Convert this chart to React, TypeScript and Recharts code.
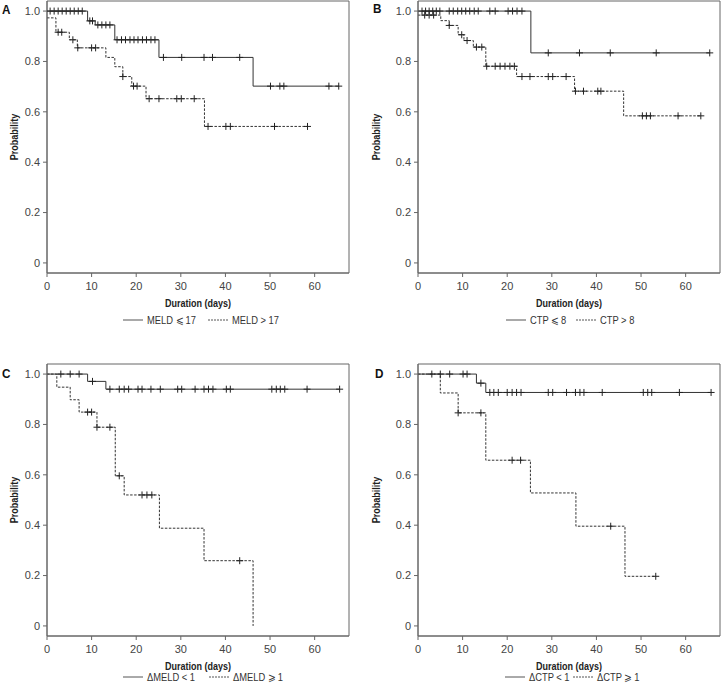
import React from 'react';
import { LineChart, Line, XAxis, YAxis, ReferenceArea, Legend } from 'recharts';

type Step = [number, number];

const FONT = "'Liberation Sans', Arial, sans-serif";
const SX = 0.82; // horizontal condensing of label text

const X_TICKS = [0, 10, 20, 30, 40, 50, 60];
const Y_TICKS = [0, 0.2, 0.4, 0.6, 0.8, 1.0];
const X_MAX = 67.7;
const Y_DOMAIN: [number, number] = [-0.04, 1.04];
const X_LABEL = 'Duration (days)';
const Y_LABEL = 'Probability';

// Panel A: MELD
const A_LEGEND = ['MELD ⩽ 17', 'MELD > 17'];
const A_SOLID_STEPS: Step[] = [[0, 1], [9.1, 0.961], [10.8, 0.945], [15.2, 0.886], [25.1, 0.816], [46.2, 0.702]];
const A_SOLID_CENSOR = [0.7, 1.6, 2.5, 3.4, 4.3, 5.2, 6.1, 7.0, 7.9, 9.6, 10.2, 11.4, 12.3, 13.2, 14.1,
  15.7, 16.7, 17.6, 18.6, 19.5, 20.4, 21.4, 22.3, 23.3, 24.2, 26.1, 30.2, 35.2, 37.1, 43.2, 50.1, 52.2, 53.1, 63.2, 65.4];
const A_DASH_STEPS: Step[] = [[0, 0.973], [2.0, 0.916], [5.0, 0.886], [6.8, 0.854], [13.2, 0.816], [15.2, 0.779],
  [17.0, 0.740], [19.0, 0.702], [22.2, 0.652], [35.3, 0.542]];
const A_DASH_CENSOR = [2.5, 3.3, 5.8, 6.9, 10.0, 10.9, 17.0, 19.4, 20.2, 22.9, 25.1, 29.1, 30.1, 33.0,
  36.1, 40.1, 41.1, 51.0, 58.4];

// Panel B: CTP
const B_LEGEND = ['CTP ⩽ 8', 'CTP > 8'];
const B_SOLID_STEPS: Step[] = [[0, 1], [25.3, 0.834]];
const B_SOLID_CENSOR = [0.9, 1.7, 2.5, 3.3, 4.1, 4.9, 7.0, 7.9, 8.9, 9.8, 10.7, 11.6, 12.6, 13.5, 16.1, 17.3,
  20.2, 21.2, 22.2, 23.3, 29.2, 36.2, 43.1, 53.4, 65.4];
const B_DASH_STEPS: Step[] = [[0, 0.984], [5.1, 0.962], [7.0, 0.943], [9.0, 0.906], [10.3, 0.883], [12.4, 0.857],
  [15.2, 0.781], [22.1, 0.740], [35.1, 0.682], [46.1, 0.584]];
const B_DASH_CENSOR = [1.5, 2.5, 3.5, 7.0, 9.8, 11.0, 13.1, 14.3, 15.4, 17.3, 18.4, 19.5, 20.6, 21.6,
  23.3, 25.1, 29.2, 30.2, 33.2, 35.3, 37.1, 40.3, 41.0, 50.3, 51.2, 52.1, 58.3, 63.4];

// Panel C: delta MELD
const C_LEGEND = ['ΔMELD < 1', 'ΔMELD ⩾ 1'];
const C_SOLID_STEPS: Step[] = [[0, 1], [9.1, 0.971], [13.2, 0.940]];
const C_SOLID_CENSOR = [3.1, 5.2, 7.2, 10.2, 14.1, 16.2, 17.3, 18.3, 20.4, 21.3, 23.3, 25.4, 29.3, 30.2, 33.2,
  35.2, 36.2, 37.2, 40.2, 41.1, 50.4, 51.4, 52.3, 53.3, 58.3, 65.6];
const C_DASH_STEPS: Step[] = [[0, 1], [2.2, 0.948], [5.2, 0.898], [7.2, 0.849], [11.2, 0.789], [15.3, 0.596],
  [17.3, 0.520], [25.2, 0.388], [35.2, 0.259], [46.2, 0]];
const C_DASH_CENSOR = [9.1, 10.0, 11.2, 14.1, 16.2, 21.3, 22.4, 23.5, 43.2];

// Panel D: delta CTP
const D_LEGEND = ['ΔCTP < 1', 'ΔCTP ⩾ 1'];
const D_SOLID_STEPS: Step[] = [[0, 1], [13.1, 0.964], [15.2, 0.927]];
const D_SOLID_CENSOR = [3.1, 5.0, 7.1, 10.1, 11.0, 14.1, 16.1, 17.0, 18.0, 20.0, 21.1, 22.1, 23.1, 29.2, 30.2,
  33.3, 35.3, 36.3, 37.2, 41.3, 50.5, 51.5, 52.4, 58.6, 65.7];
const D_DASH_STEPS: Step[] = [[0, 1], [5.0, 0.925], [9.0, 0.846], [15.2, 0.658], [25.2, 0.528], [35.4, 0.396], [46.4, 0.197]];
const D_DASH_CENSOR = [9.0, 14.1, 21.1, 23.0, 43.2, 53.3];

type Pt = { t: number; s: number; c: boolean };

function buildCurve(steps: Step[], censors: number[]): Pt[] {
  const pts: Pt[] = steps.map(([t, s]) => ({ t, s, c: false }));
  censors.forEach((t) => {
    let s = steps[0][1];
    for (const [st, sv] of steps) if (st <= t) s = sv;
    pts.push({ t, s, c: true });
  });
  pts.sort((a, b) => a.t - b.t || (a.c ? 1 : 0) - (b.c ? 1 : 0));
  return pts;
}

const Censor = (props: any) => {
  const { cx, cy, payload, index } = props;
  if (!payload || !payload.c || cx == null || cy == null) return <g key={`n${index}`} />;
  return (
    <path
      key={`c${index}`}
      d={`M${cx},${cy - 3.5}V${cy + 3.5}M${cx - 3.5},${cy}H${cx + 3.5}`}
      stroke="#222"
      strokeWidth={1}
      strokeDasharray="none"
      fill="none"
    />
  );
};

const makeLegend = (labels: string[], dashX: number) => () => (
  <svg width={200} height={14} style={{ display: 'block', overflow: 'visible' }}>
    <line x1={0} y1={7} x2={20} y2={7} stroke="#555" strokeWidth={1} />
    <text transform={`translate(24,11) scale(${SX + 0.03},1)`} fontFamily={FONT} fontSize={11} fill="#333">{labels[0]}</text>
    <line x1={dashX} y1={7} x2={dashX + 20} y2={7} stroke="#555" strokeWidth={1} strokeDasharray="2 1" />
    <text transform={`translate(${dashX + 24},11) scale(${SX + 0.03},1)`} fontFamily={FONT} fontSize={11} fill="#333">{labels[1]}</text>
  </svg>
);

const makeXLabel = (baseline: number) => (props: any) => {
  const vb = props.viewBox || {};
  const cx = vb.x + vb.width / 2;
  return (
    <text transform={`translate(${cx},${vb.y + baseline}) scale(${SX},1)`} textAnchor="middle"
      fontFamily={FONT} fontSize={11} fontWeight={700} fill="#222">{X_LABEL}</text>
  );
};

const makeYLabel = (bx: number) => (props: any) => {
  const vb = props.viewBox || {};
  const cy = vb.y + vb.height / 2;
  return (
    <text transform={`translate(${vb.x + bx},${cy}) rotate(-90) scale(${SX},1)`} textAnchor="middle"
      fontFamily={FONT} fontSize={11} fontWeight={700} fill="#222">{Y_LABEL}</text>
  );
};

type PanelProps = {
  letter: string;
  left: number;
  top: number;
  width: number;
  height: number;
  yAxisWidth: number;
  marginRight: number;
  xAxisHeight: number;
  legendTop: number;
  legendLeft: number;
  dashX: number;
  probX: number;
  letterLeft: number;
  letterTop: number;
  legend: string[];
  solid: Pt[];
  dash: Pt[];
};

function Panel(p: PanelProps) {
  const tickStyle = { fontSize: 11, fill: '#444', fontFamily: FONT };
  return (
    <>
      <div style={{ position: 'absolute', left: p.letterLeft, top: p.letterTop, fontFamily: FONT, fontWeight: 700,
        fontSize: 13, lineHeight: '16px', color: '#111', transform: 'scaleX(0.9)', transformOrigin: 'left top' }}>{p.letter}</div>
      <div style={{ position: 'absolute', left: p.left, top: p.top }}>
        <LineChart width={p.width} height={p.height} margin={{ top: 1, right: p.marginRight, bottom: 0, left: 0 }}>
          <XAxis
            type="number"
            dataKey="t"
            domain={[0, X_MAX]}
            ticks={X_TICKS}
            allowDataOverflow
            height={p.xAxisHeight}
            tick={tickStyle}
            tickSize={4}
            tickMargin={5}
            stroke="#666"
            label={{ content: makeXLabel(34) }}
          />
          <YAxis
            type="number"
            dataKey="s"
            domain={Y_DOMAIN}
            ticks={Y_TICKS}
            allowDataOverflow
            width={p.yAxisWidth}
            tick={tickStyle}
            tickSize={4}
            tickMargin={3}
            stroke="#666"
            tickFormatter={(v: number) => (v === 0 ? '0' : v.toFixed(1))}
            label={{ content: makeYLabel(p.probX) }}
          />
          <ReferenceArea x1={0} x2={X_MAX} y1={Y_DOMAIN[0]} y2={Y_DOMAIN[1]} fill="none" stroke="#666" strokeWidth={1} />
          <Line data={p.solid} dataKey="s" type="stepAfter" stroke="#333" strokeWidth={1} dot={Censor}
            activeDot={false} isAnimationActive={false} />
          <Line data={p.dash} dataKey="s" type="stepAfter" stroke="#333" strokeWidth={1} strokeDasharray="2.5 1.5"
            dot={Censor} activeDot={false} isAnimationActive={false} />
          <Legend
            layout="horizontal"
            verticalAlign="middle"
            align="center"
            content={makeLegend(p.legend, p.dashX)}
            wrapperStyle={{ top: p.legendTop, left: p.legendLeft, width: 200 }}
          />
        </LineChart>
      </div>
    </>
  );
}

export default function App() {
  const aS = buildCurve(A_SOLID_STEPS, A_SOLID_CENSOR);
  const aD = buildCurve(A_DASH_STEPS, A_DASH_CENSOR);
  const bS = buildCurve(B_SOLID_STEPS, B_SOLID_CENSOR);
  const bD = buildCurve(B_DASH_STEPS, B_DASH_CENSOR);
  const cS = buildCurve(C_SOLID_STEPS, C_SOLID_CENSOR);
  const cD = buildCurve(C_DASH_STEPS, C_DASH_CENSOR);
  const dS = buildCurve(D_SOLID_STEPS, D_SOLID_CENSOR);
  const dD = buildCurve(D_DASH_STEPS, D_DASH_CENSOR);
  return (
    <div style={{ position: 'absolute', left: 0, top: 0, width: 721, height: 689, background: '#fff', overflow: 'hidden' }}>
      <Panel letter="A" left={0} top={0} width={360} height={340} yAxisWidth={47} marginRight={11} xAxisHeight={67}
        legendTop={313} legendLeft={123} dashX={85} probX={18} letterLeft={2} letterTop={2}
        legend={A_LEGEND} solid={aS} dash={aD} />
      <Panel letter="B" left={360} top={0} width={361} height={340} yAxisWidth={58} marginRight={1} xAxisHeight={67}
        legendTop={313} legendLeft={146} dashX={70} probX={19.5} letterLeft={373} letterTop={1}
        legend={B_LEGEND} solid={bS} dash={bD} />
      <Panel letter="C" left={0} top={363} width={360} height={326} yAxisWidth={47} marginRight={11} xAxisHeight={53}
        legendTop={307} legendLeft={123} dashX={86} probX={18} letterLeft={2} letterTop={366}
        legend={C_LEGEND} solid={cS} dash={cD} />
      <Panel letter="D" left={360} top={363} width={361} height={326} yAxisWidth={58} marginRight={1} xAxisHeight={53}
        legendTop={307} legendLeft={145} dashX={68} probX={20} letterLeft={375} letterTop={366}
        legend={D_LEGEND} solid={dS} dash={dD} />
    </div>
  );
}
